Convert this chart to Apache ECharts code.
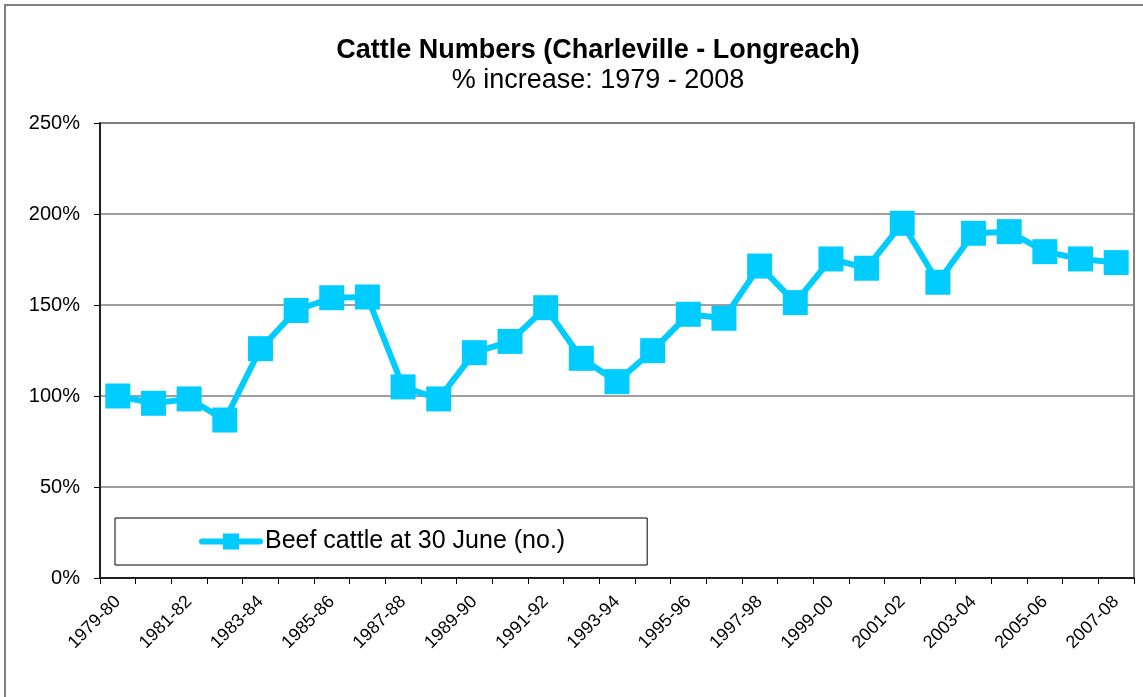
<!DOCTYPE html>
<html>
<head>
<meta charset="utf-8">
<script src="https://cdn.jsdelivr.net/npm/echarts@6/dist/echarts.min.js"></script>
<style>
html,body{margin:0;padding:0;background:#fff;}
#c{width:1143px;height:697px;}
</style>
</head>
<body>
<div id="c"></div>
<script>
const categories = ['1979-80','1980-81','1981-82','1982-83','1983-84','1984-85','1985-86','1986-87','1987-88','1988-89','1989-90','1990-91','1991-92','1992-93','1993-94','1994-95','1995-96','1996-97','1997-98','1998-99','1999-00','2000-01','2001-02','2002-03','2003-04','2004-05','2005-06','2006-07','2007-08'];
const beefCattle = [100,96,98.4,86.8,126,147,154,154.4,105,98.4,123.8,130,148.5,120.7,107.9,124.9,144.9,142.7,171.4,151.3,175.3,170.2,194.9,162.5,189.4,190.3,179.3,175.3,173.3];
const seriesName = 'Beef cattle at 30 June (no.)';
const titleText = 'Cattle Numbers (Charleville - Longreach)';
const subtitleText = '% increase: 1979 - 2008';

const FONT = '"Liberation Sans", Arial, sans-serif';
const chart = echarts.init(document.getElementById('c'), null, {renderer:'canvas'});
chart.setOption({
  animation:false,
  backgroundColor:'#fff',
  textStyle:{fontFamily:FONT},
  graphic:[
    {type:'rect', shape:{x:5,y:5,width:1200,height:800}, style:{fill:'none', stroke:'#808080', lineWidth:2}, silent:true, z:-10},
    {type:'text', x:598, y:51, style:{text:titleText, fontFamily:FONT, fontSize:27, fontWeight:'bold', fill:'#000', align:'center', verticalAlign:'middle'}},
    {type:'text', x:598, y:81, style:{text:subtitleText, fontFamily:FONT, fontSize:27, fill:'#000', align:'center', verticalAlign:'middle'}}
  ],
  grid:{left:100, right:9, top:123, bottom:119, show:true, borderColor:'#808080', borderWidth:2, containLabel:false},
  legend:{
    left:115, top:518,
    padding:[11,82,11,84],
    backgroundColor:'#fff',
    borderColor:'#000', borderWidth:1,
    itemWidth:58, itemHeight:20, itemGap:5,
    textStyle:{fontFamily:FONT, fontSize:25, color:'#000'},
    lineStyle:{width:6, cap:'round'},
    data:[seriesName]
  },
  xAxis:{
    type:'category',
    data:categories,
    boundaryGap:true,
    axisLine:{show:true, lineStyle:{color:'#000', width:1.5}},
    axisTick:{show:true, alignWithLabel:false, interval:0, length:6, lineStyle:{color:'#000'}},
    axisLabel:{interval:1, rotate:45, fontSize:18, color:'#000', fontFamily:FONT, margin:21},
    splitLine:{show:false}
  },
  yAxis:{
    type:'value', min:0, max:250, interval:50,
    axisLine:{show:true, lineStyle:{color:'#000', width:1.5}},
    axisTick:{show:true, length:6, lineStyle:{color:'#000'}},
    axisLabel:{formatter:'{value}%', fontSize:20, color:'#000', fontFamily:FONT, margin:20},
    splitLine:{show:true, lineStyle:{color:'#7f7f7f', width:1.5}}
  },
  series:[{
    name:seriesName,
    type:'line',
    data:beefCattle,
    symbol:'rect',
    symbolSize:25,
    showAllSymbol:true,
    color:'#00CCFF',
    lineStyle:{color:'#00CCFF', width:6},
    itemStyle:{color:'#00CCFF'}
  }]
});
</script>
</body>
</html>
